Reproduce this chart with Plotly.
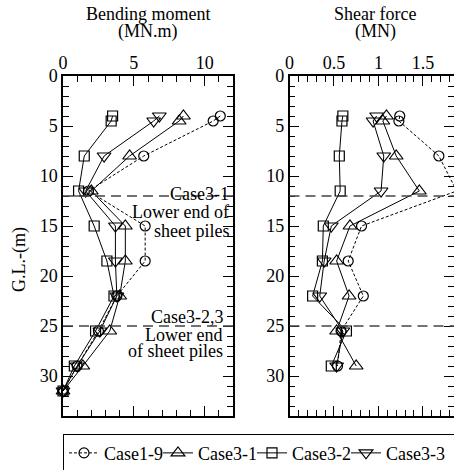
import plotly.graph_objects as go

# ---------------- data ----------------
depth_bm = [4.0, 4.5, 8, 11.5, 15, 18.5, 22, 25.5, 29, 31.5]
case1_9_bm = [11.1, 10.6, 5.7, 1.8, 5.8, 5.8, 3.8, 2.5, 1.0, 0.0]
case3_1_bm = [8.5, 8.2, 4.7, 2.0, 4.4, 4.4, 4.0, 3.3, 1.4, 0.0]
case3_2_bm = [3.5, 3.4, 1.5, 1.1, 2.2, 3.1, 3.6, 2.3, 0.8, 0.0]
case3_3_bm = [6.8, 6.4, 2.9, 1.6, 3.7, 3.7, 3.8, 2.6, 1.0, 0.0]

depth_sf = [4.0, 4.5, 8, 11.5, 15, 18.5, 22, 25.5, 29]
case1_9_sf = [1.24, 1.23, 1.68, 1.88, 0.81, 0.66, 0.83, 0.58, 0.54]
case3_1_sf = [1.09, 1.05, 1.20, 1.46, 0.68, 0.53, 0.67, 0.53, 0.75]
case3_2_sf = [0.60, 0.59, 0.56, 0.57, 0.38, 0.37, 0.26, 0.64, 0.47]
case3_3_sf = [0.98, 0.94, 1.06, 1.03, 0.47, 0.39, 0.34, 0.60, 0.53]

series_names = ["Case1-9", "Case3-1", "Case3-2", "Case3-3"]
sheet_pile_depths = [12, 25]
bm_ticks = [0, 5, 10]
sf_ticks = [0, 0.5, 1, 1.5]
depth_ticks = [0, 5, 10, 15, 20, 25, 30]

FONT = "Liberation Serif"

bm_data = [case1_9_bm, case3_1_bm, case3_2_bm, case3_3_bm]
sf_data = [case1_9_sf, case3_1_sf, case3_2_sf, case3_3_sf]
symbols = ["circle-open", "triangle-up-open", "square-open", "triangle-down-open"]
sizes = [10, 12, 10, 12]
dashes = ["3px,2px", "solid", "solid", "solid"]
legend_w = [49, 49, 49, 64]

fig = go.Figure()
for i, name in enumerate(series_names):
    fig.add_trace(go.Scatter(
        x=bm_data[i], y=depth_bm, mode="lines+markers", name=name,
        xaxis="x", yaxis="y", legendwidth=legend_w[i],
        line=dict(color="black", width=1, dash=dashes[i]),
        marker=dict(symbol=symbols[i], size=sizes[i], color="black",
                    line=dict(color="black", width=1.2)),
        cliponaxis=False,
    ))
for i, name in enumerate(series_names):
    fig.add_trace(go.Scatter(
        x=sf_data[i], y=depth_sf, mode="lines+markers", name=name,
        xaxis="x2", yaxis="y2", showlegend=False,
        line=dict(color="black", width=1, dash=dashes[i]),
        marker=dict(symbol=symbols[i], size=sizes[i], color="black",
                    line=dict(color="black", width=1.2)),
        cliponaxis=False,
    ))

axis_common = dict(
    showline=True, linecolor="black", linewidth=1.5, mirror="allticks",
    ticks="inside", ticklen=10, tickwidth=1.2, tickcolor="black",
    showgrid=False, zeroline=False,
    tickfont=dict(family=FONT, size=18, color="black"),
)
minor_common = dict(ticks="inside", ticklen=6, tickcolor="black", tickwidth=1.2)

fig.update_layout(
    width=454, height=470,
    margin=dict(l=63, r=0, t=76, b=54, autoexpand=False),
    paper_bgcolor="white", plot_bgcolor="white",
    font=dict(family=FONT, size=18, color="black"),
    showlegend=True,
    legend=dict(
        orientation="h", x=0, xanchor="left", y=-0.052, yanchor="top",
        bordercolor="black", borderwidth=1, bgcolor="white",
        font=dict(family=FONT, size=18, color="black"),
        itemwidth=30, entrywidthmode="pixels",
    ),
    xaxis=dict(axis_common, domain=[0, 0.4348], range=[0, 12], side="top",
               tickvals=bm_ticks, anchor="y",
               minor=dict(minor_common, dtick=1), ticklabelstandoff=-2),
    xaxis2=dict(axis_common, domain=[0.5793, 1], range=[0, 1.85], side="top",
                tickvals=sf_ticks, anchor="y2",
                minor=dict(minor_common, dtick=0.1), ticklabelstandoff=-2),
    yaxis=dict(axis_common, domain=[0, 1], range=[34, 0], tickvals=depth_ticks,
               anchor="x", minor=dict(minor_common, dtick=1), ticklabelstandoff=0),
    yaxis2=dict(axis_common, domain=[0, 1], range=[34, 0], tickvals=depth_ticks,
                anchor="x2", minor=dict(minor_common, dtick=1), ticklabelstandoff=0),
)

# dashed lines: lower ends of sheet piles
for d in sheet_pile_depths:
    for xr, yr in (("x domain", "y"), ("x2 domain", "y2")):
        fig.add_shape(type="line", xref=xr, yref=yr, x0=0, x1=1, y0=d, y1=d,
                      line=dict(color="#444444", width=1.5, dash="10px,6px"))

# shadow under legend
fig.add_shape(type="rect", xref="paper", yref="paper",
              x0=0.013, x1=1.02, y0=-0.152, y1=-0.134,
              fillcolor="black", line=dict(color="black", width=1), layer="above")

ann_font = dict(family=FONT, size=18, color="black")
texts = [
    ("Case3-1", 11.8, -2),
    ("Lower end of", 13.6, -2),
    ("sheet piles", 15.5, -2),
    ("Case3-2,3", 24.1, -8),
    ("Lower end", 25.9, -9),
    ("of sheet piles", 27.5, -8),
]
for t, yv, xs in texts:
    fig.add_annotation(text=t, xref="x domain", yref="y", x=1, y=yv,
                       xanchor="right", yanchor="middle", xshift=xs,
                       showarrow=False, font=ann_font)

# panel titles
fig.add_annotation(text="Bending moment", xref="x domain", yref="paper", x=0.5, y=1.181,
                   xanchor="center", yanchor="middle", showarrow=False, font=ann_font)
fig.add_annotation(text="(MN.m)", xref="x domain", yref="paper", x=0.5, y=1.13,
                   xanchor="center", yanchor="middle", showarrow=False, font=ann_font)
fig.add_annotation(text="Shear force", xref="x2 domain", yref="paper", x=0.52, y=1.181,
                   xanchor="center", yanchor="middle", showarrow=False, font=ann_font)
fig.add_annotation(text="(MN)", xref="x2 domain", yref="paper", x=0.52, y=1.13,
                   xanchor="center", yanchor="middle", showarrow=False, font=ann_font)

# y-axis title
fig.add_annotation(text="G.L.-(m)", xref="paper", yref="paper", x=-0.113, y=0.461,
                   xanchor="center", yanchor="middle", textangle=-90,
                   showarrow=False, font=ann_font)

fig.write_html("out.html")
